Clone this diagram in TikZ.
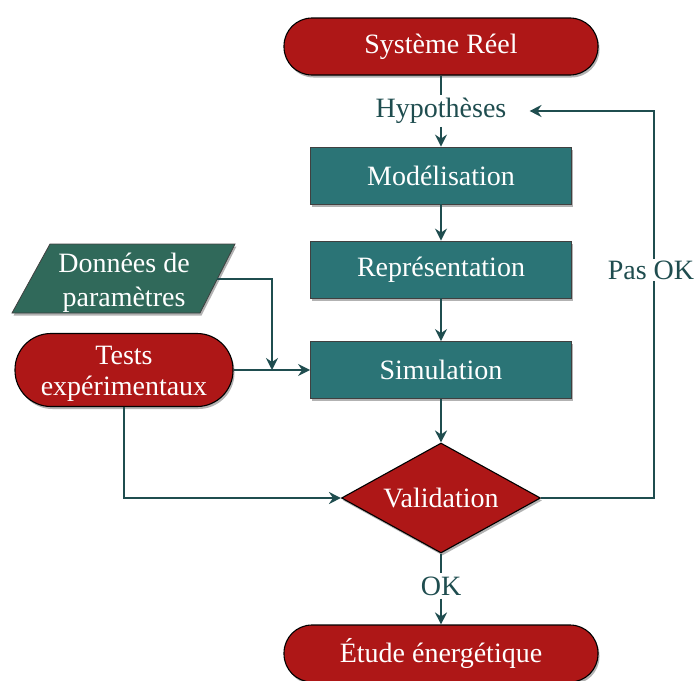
\documentclass[tikz,border=0pt]{standalone}
\usepackage{fontspec}
\setmainfont{Liberation Serif}
\usetikzlibrary{shapes.geometric,arrows.meta,shadows}
\definecolor{redfill}{HTML}{AE1717}
\definecolor{tealfill}{HTML}{2B7476}
\definecolor{greenfill}{HTML}{30695A}
\definecolor{linecol}{HTML}{1F4D4F}
\begin{document}
\begin{tikzpicture}[x=1pt,y=-1pt,
  font=\fontsize{28}{32}\selectfont,
  shade/.style={drop shadow={shadow xshift=1.5pt,shadow yshift=-2.5pt,fill=black,opacity=0.3}},
  pill/.style={shade,rectangle,rounded corners=28pt,fill=redfill,draw=black,line width=1.1pt,
    text=white,minimum width=314pt,minimum height=57pt,inner sep=0pt,align=center},
  box/.style={shade,rectangle,fill=tealfill,draw=black!75,line width=0.8pt,text=white,
    minimum width=261pt,minimum height=57pt,inner sep=0pt},
  dia/.style={shade,diamond,aspect=1.81,fill=redfill,draw=black,line width=1.1pt,text=white,
    minimum width=199pt,minimum height=110pt,inner sep=0pt},
  lbl/.style={text=linecol,inner sep=3pt},
  conn/.style={draw=linecol,line width=1.8pt},
  arr/.style={conn,-{Stealth[length=12pt,width=12pt,inset=4pt]}}
]
\useasboundingbox (0,0) rectangle (696,680);
% nodes
\node[pill] (sys) at (441,46.5) {Système Réel};
\node[lbl] (hyp) at (441,111) {Hypothèses};
\node[box] (mod) at (441,175.5) {Modélisation};
\node[box] (rep) at (441,269.5) {Représentation};
\node[box] (sim) at (441,370) {Simulation};
\node[dia] (val) at (441,498) {Validation};
\node[lbl] (ok) at (441,586) {OK};
\node[pill] (etu) at (441,653.5) {Étude énergétique};
\node[pill,minimum width=218pt,minimum height=73pt,rounded corners=36pt,
  font=\fontsize{28}{31}\selectfont] (tests) at (124,370) {\rule{0pt}{26pt}Tests\\expérimentaux};
\fill[greenfill,draw=black!75,line width=0.8pt,shade] (50,244) -- (235,244) -- (200,313) -- (12,313) -- cycle;
\node[minimum width=186pt,minimum height=69pt,inner sep=0pt,text=white,align=center,
  font=\fontsize{28}{34}\selectfont] (don) at (124,279) {\rule{0pt}{26pt}Données de\\paramètres};
% connectors
\coordinate (j) at (272,370);
\coordinate (rt) at (654,111);
\draw[conn] (sys.south) -- (hyp.north);
\draw[arr] (hyp.south) -- (mod.north);
\draw[arr] (mod) -- (rep);
\draw[arr] (rep) -- (sim);
\draw[arr] (sim.south) -- (val.north);
\draw[conn] (val.south) -- (ok.north);
\draw[arr] (ok.south) -- (etu.north);
\draw[arr] (tests.east) -- (sim.west);
\draw[arr] (don.east) -| (j);
\draw[arr] (tests.south) |- (val.west);
\draw[arr] (val.east) -| (rt) -- ([xshift=20pt]hyp.east);
\node[lbl,fill=white,inner sep=2pt] (pasok) at (651,270) {Pas OK};
\end{tikzpicture}
\end{document}
